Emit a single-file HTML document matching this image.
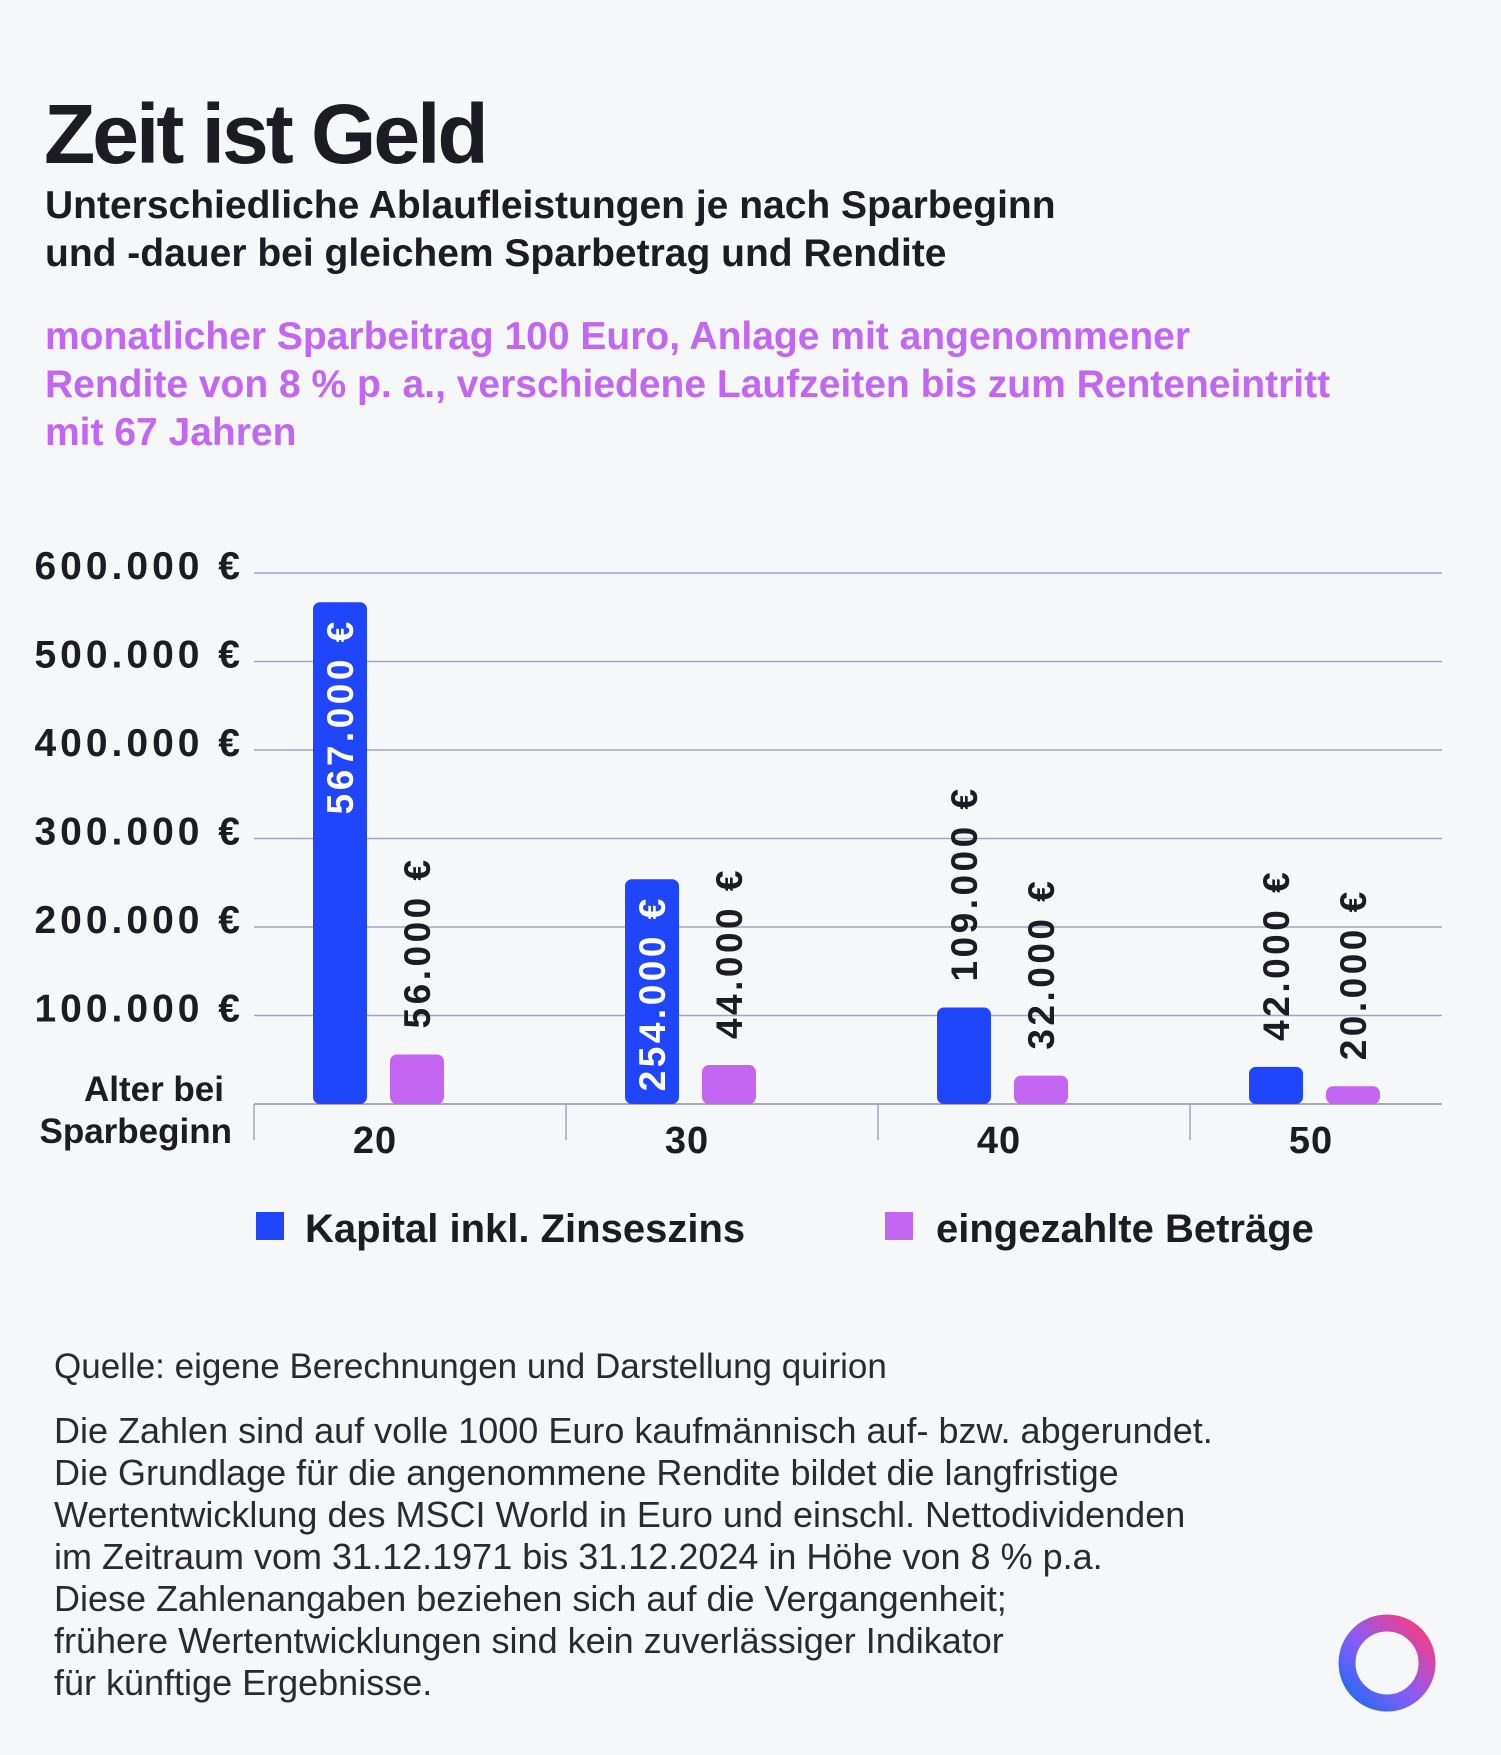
<!DOCTYPE html>
<html><head><meta charset="utf-8"><style>
html,body{margin:0;padding:0;background:#f6f7f9;}
svg{display:block;font-family:"Liberation Sans",sans-serif;}
</style></head><body>
<svg id="chart" width="1501" height="1755" viewBox="0 0 1501 1755">
<rect width="1501" height="1755" fill="#f6f7f9"/>
<text x="44" y="163" font-size="84" font-weight="bold" fill="#1c1c22" letter-spacing="-3">Zeit ist Geld</text>
<g font-size="39" font-weight="bold" fill="#1c1c22">
<text x="45" y="218">Unterschiedliche Ablaufleistungen je nach Sparbeginn</text>
<text x="45" y="266">und -dauer bei gleichem Sparbetrag und Rendite</text>
</g>
<g font-size="39" font-weight="bold" fill="#c366f2">
<text x="45" y="349">monatlicher Sparbeitrag 100 Euro, Anlage mit angenommener</text>
<text x="45" y="397">Rendite von 8 % p. a., verschiedene Laufzeiten bis zum Renteneintritt</text>
<text x="45" y="445">mit 67 Jahren</text>
</g>
<g id="grid"></g>
<g id="bars"></g>
<g font-size="35" font-weight="bold" fill="#1c1c22" text-anchor="end">
<text x="224" y="1101">Alter bei</text>
<text x="232" y="1143">Sparbeginn</text>
</g>
<g>
<rect x="256" y="1212" width="28" height="28" fill="#2046fb"/>
<text x="305" y="1242" font-size="40" font-weight="bold" fill="#1c1c22">Kapital inkl. Zinseszins</text>
<rect x="885" y="1212" width="28" height="28" fill="#c366f2"/>
<text x="936" y="1242" font-size="40" font-weight="bold" fill="#1c1c22">eingezahlte Beträge</text>
</g>
<text x="54" y="1378" font-size="35" fill="#2a2a30">Quelle: eigene Berechnungen und Darstellung quirion</text>
<g font-size="36" fill="#2a2a30">
<text x="54" y="1443">Die Zahlen sind auf volle 1000 Euro kaufmännisch auf- bzw. abgerundet.</text>
<text x="54" y="1485">Die Grundlage für die angenommene Rendite bildet die langfristige</text>
<text x="54" y="1527">Wertentwicklung des MSCI World in Euro und einschl. Nettodividenden</text>
<text x="54" y="1569">im Zeitraum vom 31.12.1971 bis 31.12.2024 in Höhe von 8 % p.a.</text>
<text x="54" y="1611">Diese Zahlenangaben beziehen sich auf die Vergangenheit;</text>
<text x="54" y="1653">frühere Wertentwicklungen sind kein zuverlässiger Indikator</text>
<text x="54" y="1695">für künftige Ergebnisse.</text>
</g>
<defs>
<linearGradient id="lg" x1="0" y1="1" x2="1" y2="0">
<stop offset="0" stop-color="#1e6bf0"/><stop offset="0.45" stop-color="#8a5cf5"/><stop offset="1" stop-color="#ff3a78"/>
</linearGradient>
</defs>
<g>
<circle cx="1387" cy="1663" r="40" fill="none" stroke="url(#lg)" stroke-width="17"/>
</g>
<script>
const categories = ["20","30","40","50"];
const kapital = [567000, 254000, 109000, 42000];
const eingezahlt = [56000, 44000, 32000, 20000];
const kapitalLabels = ["567.000 €","254.000 €","109.000 €","42.000 €"];
const eingezahltLabels = ["56.000 €","44.000 €","32.000 €","20.000 €"];
const yTicks = [100000,200000,300000,400000,500000,600000];
const yTickLabels = ["100.000 €","200.000 €","300.000 €","400.000 €","500.000 €","600.000 €"];

const NS="http://www.w3.org/2000/svg";
const x0=254,x1=1442,y0=1104,yTop=573,yMax=600000;
const groupW=312;
function yScale(v){return y0-(v/yMax)*(y0-yTop);}
function mk(tag,attrs,parent){const e=document.createElementNS(NS,tag);for(const k in attrs)e.setAttribute(k,attrs[k]);parent.appendChild(e);return e;}
const grid=document.getElementById('grid');
yTicks.forEach((t,i)=>{
  const y=yScale(t);
  const l=mk('line',{x1:x0,x2:x1,y1:y,y2:y,stroke:'#a6a3c2','stroke-width':1.5},grid);
  
  
  const tx=mk('text',{x:244,y:y+6,'text-anchor':'end','font-size':39,'font-weight':'bold',fill:'#1c1c22','letter-spacing':4},grid);
  tx.textContent=yTickLabels[i];
  
  
});
const base=mk('line',{x1:x0,x2:x1,y1:y0,y2:y0,stroke:'#8f8cab','stroke-width':1.5},grid);


const bars=document.getElementById('bars');
categories.forEach((c,i)=>{
  const gx=x0+i*groupW;
  const tk=mk('line',{x1:gx,x2:gx,y1:y0,y2:y0+36,stroke:'#a6a3c2','stroke-width':1.5},grid);
  
  
  const cl=mk('text',{x:gx+121,y:y0+49,'text-anchor':'middle','font-size':38,'font-weight':'bold',fill:'#1c1c22','letter-spacing':1},grid);
  cl.textContent=c;
  
  
  const series=[[kapital[i],kapitalLabels[i],'#2046fb',59,'bar-kapital'],[eingezahlt[i],eingezahltLabels[i],'#c366f2',136,'bar-eingezahlt']];
  series.forEach(s=>{
    const bx=gx+s[3],w=54,yt=yScale(s[0]);
    const r=mk('rect',{x:bx,y:yt,width:w,height:y0-yt,rx:7,fill:s[2]},bars);
    
    
    const inside=(y0-yt)>200;
    const cx=bx+w/2+13;
    const ty=inside?yt+16:yt-26;
    const t=mk('text',{x:cx,y:ty,transform:`rotate(-90 ${cx} ${ty})`,'text-anchor':inside?'end':'start','font-size':37,'font-weight':'bold','letter-spacing':3.5,fill:inside?'#ffffff':'#1c1c22'},bars);
    t.textContent=s[1];
    
    
  });
});
</script>
</svg>
</body></html>
